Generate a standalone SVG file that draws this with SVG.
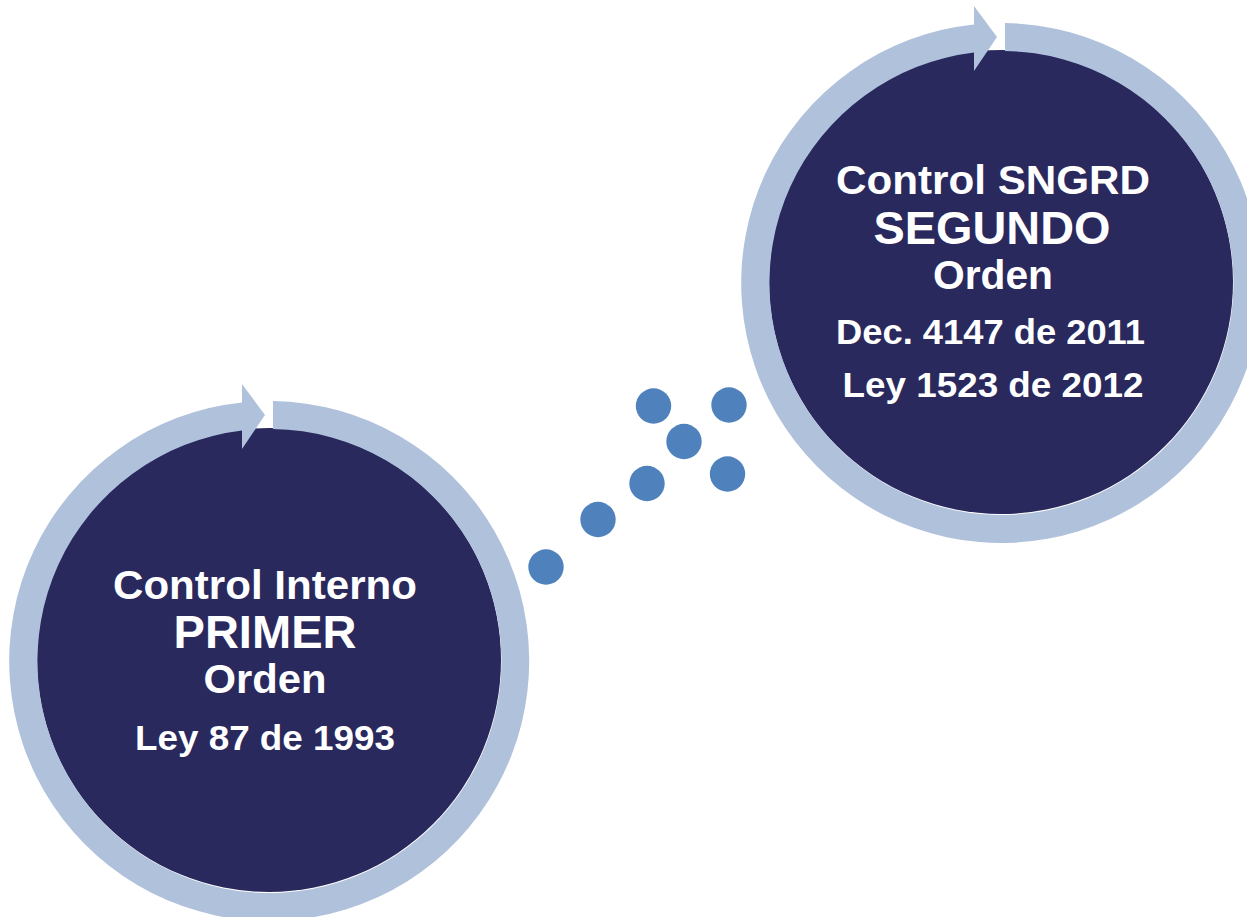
<svg xmlns="http://www.w3.org/2000/svg" width="1247" height="917" viewBox="0 0 1247 917">
  <style>
    .disc { fill: #29295E; }
    .ring { fill: #B0C1DC; }
    .dot { fill: #4F81BD; }
    .t { font-family: "Liberation Sans", Arial, sans-serif; font-weight: bold; fill: #FFFFFF; text-anchor: middle; }
  </style>
  <defs>
    <path id="ringArrow" d="M4,-259 A260,260 0 1 1 -27,-257.6 L-27,-276 L-4,-245 L-27,-211 L-27,-229.4 A232,232 0 1 0 4,-231 Z"/>
  </defs>
  <rect width="1247" height="917" fill="#FFFFFF"/>

  <g id="connectors">
    <circle class="dot" cx="546" cy="567" r="17.7"/>
    <circle class="dot" cx="598" cy="519.5" r="17.7"/>
    <circle class="dot" cx="647" cy="483.5" r="17.7"/>
    <circle class="dot" cx="653.5" cy="406" r="17.7"/>
    <circle class="dot" cx="684" cy="441.5" r="17.7"/>
    <circle class="dot" cx="729" cy="405" r="17.7"/>
    <circle class="dot" cx="727.5" cy="474" r="17.7"/>
  </g>

  <g id="node-primer">
    <circle class="disc" cx="269" cy="660" r="232"/>
    <use href="#ringArrow" class="ring" transform="translate(269,660)"/>
    <text class="t" x="265" y="599" font-size="41" textLength="304" lengthAdjust="spacingAndGlyphs">Control Interno</text>
    <text class="t" x="265" y="647.5" font-size="46" textLength="183" lengthAdjust="spacingAndGlyphs">PRIMER</text>
    <text class="t" x="265" y="693" font-size="41" textLength="123" lengthAdjust="spacingAndGlyphs">Orden</text>
    <text class="t" x="265" y="749.5" font-size="35" textLength="260" lengthAdjust="spacingAndGlyphs">Ley 87 de 1993</text>
  </g>

  <g id="node-segundo">
    <circle class="disc" cx="1001" cy="282" r="232"/>
    <use href="#ringArrow" class="ring" transform="translate(1001,282)"/>
    <text class="t" x="993" y="194" font-size="41" textLength="314" lengthAdjust="spacingAndGlyphs">Control SNGRD</text>
    <text class="t" x="992" y="243.5" font-size="46" textLength="237" lengthAdjust="spacingAndGlyphs">SEGUNDO</text>
    <text class="t" x="993" y="288.5" font-size="41" textLength="120" lengthAdjust="spacingAndGlyphs">Orden</text>
    <text class="t" x="990.5" y="344" font-size="35" textLength="309" lengthAdjust="spacingAndGlyphs">Dec. 4147 de 2011</text>
    <text class="t" x="993" y="397" font-size="35" textLength="301" lengthAdjust="spacingAndGlyphs">Ley 1523 de 2012</text>
  </g>
</svg>
